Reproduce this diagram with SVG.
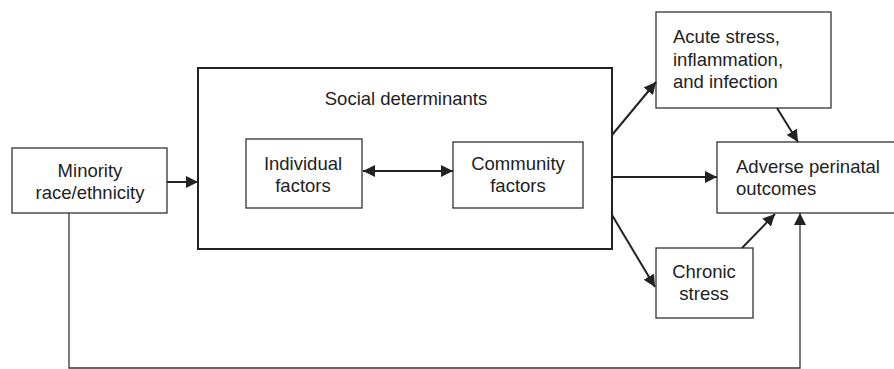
<svg xmlns="http://www.w3.org/2000/svg" width="894" height="369" viewBox="0 0 894 369">
  <style>
    .box { fill: #fff; stroke: #333; stroke-width: 1.3; }
    .big { fill: #fff; stroke: #222; stroke-width: 2; }
    text { font-family: "Liberation Sans", Arial, sans-serif; font-size: 18.5px; fill: #222; }
    .c { text-anchor: middle; }
    .edge { fill: none; stroke: #222; stroke-width: 2; }
    .thin { fill: none; stroke: #333; stroke-width: 1.3; }
  </style>
  <defs>
    <marker id="arrL" viewBox="0 0 10 10" refX="10" refY="5" markerWidth="12" markerHeight="12" markerUnits="userSpaceOnUse" orient="auto-start-reverse">
      <path d="M0,0 L10,5 L0,10 z" fill="#222"/>
    </marker>
  </defs>

  <g id="minority">
    <rect class="box" x="12" y="148" width="155" height="65"/>
    <text class="c" x="90" y="177">Minority</text>
    <text class="c" x="90" y="199">race/ethnicity</text>
  </g>

  <g id="social-determinants">
    <rect class="big" x="198" y="68" width="414" height="181"/>
    <text class="c" x="406" y="105">Social determinants</text>
  </g>

  <g id="individual">
    <rect class="box" x="246" y="139" width="116" height="69"/>
    <text class="c" x="303" y="170">Individual</text>
    <text class="c" x="303" y="192">factors</text>
  </g>

  <g id="community">
    <rect class="box" x="453" y="142" width="130" height="66"/>
    <text class="c" x="518" y="170">Community</text>
    <text class="c" x="518" y="192">factors</text>
  </g>

  <g id="acute">
    <rect class="box" x="656" y="12" width="175" height="96"/>
    <text x="673" y="43">Acute stress,</text>
    <text x="673" y="66">inflammation,</text>
    <text x="673" y="88">and infection</text>
  </g>

  <g id="adverse">
    <rect class="box" x="717" y="142" width="178" height="71"/>
    <text x="736" y="173">Adverse perinatal</text>
    <text x="736" y="195">outcomes</text>
  </g>

  <g id="chronic">
    <rect class="box" x="656" y="248" width="97" height="70"/>
    <text class="c" x="704" y="278">Chronic</text>
    <text class="c" x="704" y="300">stress</text>
  </g>

  <g id="connectors">
    <line class="edge" x1="167" y1="182" x2="198" y2="182" marker-end="url(#arrL)"/>
    <line class="edge" x1="363" y1="171" x2="453" y2="171" marker-start="url(#arrL)" marker-end="url(#arrL)"/>
    <line class="edge" x1="612" y1="135" x2="656" y2="82" marker-end="url(#arrL)"/>
    <line class="edge" x1="612" y1="177" x2="717" y2="177" marker-end="url(#arrL)"/>
    <line class="edge" x1="612" y1="215" x2="655" y2="287" marker-end="url(#arrL)"/>
    <line class="edge" x1="777" y1="108" x2="798" y2="142" marker-end="url(#arrL)"/>
    <line class="edge" x1="742" y1="248" x2="775" y2="214" marker-end="url(#arrL)"/>
    <polyline class="thin" points="69,213 69,368 800,368 800,213" marker-end="url(#arrL)"/>
  </g>
</svg>
